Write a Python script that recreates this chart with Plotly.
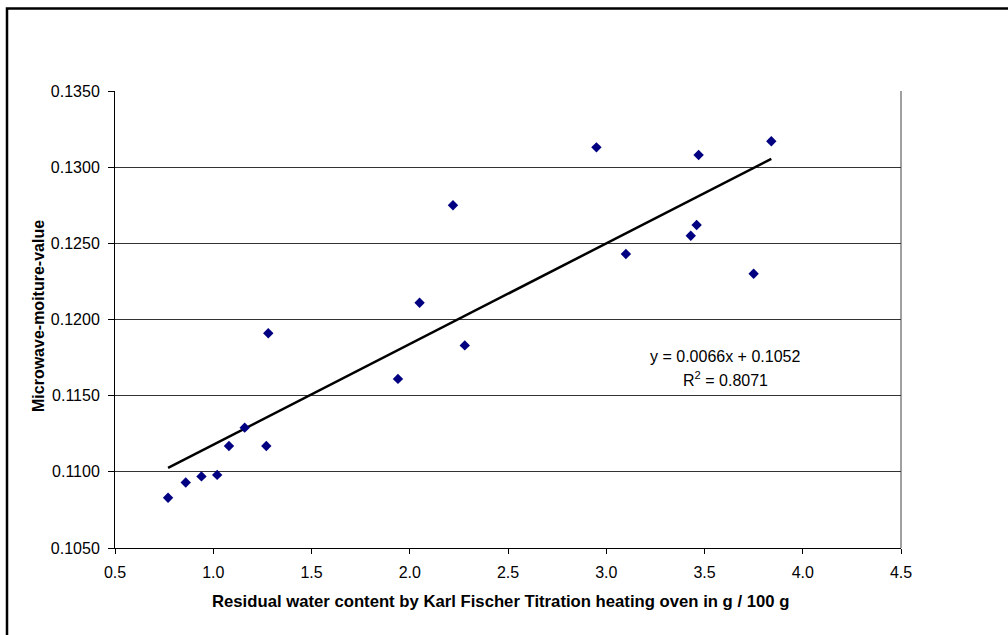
import numpy as np
import plotly.graph_objects as go

# Data
water_content = [0.77, 0.86, 0.94, 1.02, 1.08, 1.16, 1.27, 1.28, 1.94, 2.05,
                 2.22, 2.28, 2.95, 3.10, 3.43, 3.46, 3.47, 3.75, 3.84]
microwave_value = [0.1083, 0.1093, 0.1097, 0.1098, 0.1117, 0.1129, 0.1117, 0.1191,
                   0.1161, 0.1211, 0.1275, 0.1183, 0.1313, 0.1243, 0.1255, 0.1262,
                   0.1308, 0.1230, 0.1317]
x_ticks = [0.5, 1.0, 1.5, 2.0, 2.5, 3.0, 3.5, 4.0, 4.5]
y_ticks = [0.1050, 0.1100, 0.1150, 0.1200, 0.1250, 0.1300, 0.1350]
equation_text = "y = 0.0066x + 0.1052"
r2_text = "R<sup>2</sup> = 0.8071"
x_title = "Residual water content by Karl Fischer Titration heating oven in g / 100 g"
y_title = "Microwave-moiture-value"

FONT = "Liberation Sans, Arial, sans-serif"

# linear trend line
slope, intercept = np.polyfit(water_content, microwave_value, 1)
tx = [min(water_content), max(water_content)]
ty = [slope * v + intercept for v in tx]

fig = go.Figure()
fig.add_trace(go.Scatter(
    x=tx, y=ty, mode="lines",
    line=dict(color="black", width=2.5),
    hoverinfo="skip", showlegend=False))
fig.add_trace(go.Scatter(
    x=water_content, y=microwave_value, mode="markers",
    marker=dict(symbol="diamond", size=8, color="#000080",
                line=dict(width=0)),
    showlegend=False))

W, H = 1008, 635
L, R, T, B = 115, 901, 90.7, 548.3
pw, ph = R - L, B - T

def px(xp):
    return (xp - L) / pw

def py(yp):
    return (B - yp) / ph

fig.update_layout(
    width=W, height=H,
    margin=dict(l=L, r=W - R, t=T, b=H - B, pad=0),
    paper_bgcolor="white", plot_bgcolor="white",
    font=dict(family=FONT, size=16, color="black"),
    xaxis=dict(range=[0.5, 4.5], tickvals=x_ticks,
               ticktext=[f"{v:.1f}" for v in x_ticks],
               showgrid=False, zeroline=False,
               showline=True, linecolor="black", linewidth=1,
               ticks="outside", ticklen=5, tickcolor="black", tickwidth=1,
               ticklabelstandoff=5,
               tickfont=dict(size=16, family=FONT, color="black")),
    yaxis=dict(range=[0.1050, 0.1350], tickvals=y_ticks,
               ticktext=[f"{v:.4f}" for v in y_ticks],
               showgrid=True, gridcolor="#333333", gridwidth=1,
               zeroline=False,
               showline=True, linecolor="black", linewidth=1,
               ticks="outside", ticklen=6, tickcolor="black", tickwidth=1,
               ticklabelstandoff=5,
               tickfont=dict(size=16, family=FONT, color="black")),
    shapes=[
        # outer chart border
        dict(type="rect", xref="paper", yref="paper",
             x0=px(7), x1=px(1030), y0=py(8), y1=py(660),
             line=dict(color="black", width=2.5), layer="above"),
        # right plot border (gray)
        dict(type="line", xref="paper", yref="paper",
             x0=1, x1=1, y0=0, y1=1,
             line=dict(color="#a0a0a0", width=2), layer="below"),
    ],
    annotations=[
        dict(text=equation_text, xref="paper", yref="paper",
             x=px(725), y=py(357), xanchor="center", yanchor="middle",
             showarrow=False, font=dict(size=16, family=FONT)),
        dict(text=r2_text, xref="paper", yref="paper",
             x=px(725), y=py(379), xanchor="center", yanchor="middle",
             showarrow=False, font=dict(size=16, family=FONT)),
        dict(text="<b>" + x_title + "</b>", xref="paper", yref="paper",
             x=px(500), y=py(602), xanchor="center", yanchor="middle",
             showarrow=False, font=dict(size=16.7, family=FONT)),
        dict(text="<b>" + y_title + "</b>", xref="paper", yref="paper",
             x=px(38), y=py(316), xanchor="center", yanchor="middle",
             textangle=-90, showarrow=False, font=dict(size=16, family=FONT)),
    ],
)

fig.write_html("out.html")
